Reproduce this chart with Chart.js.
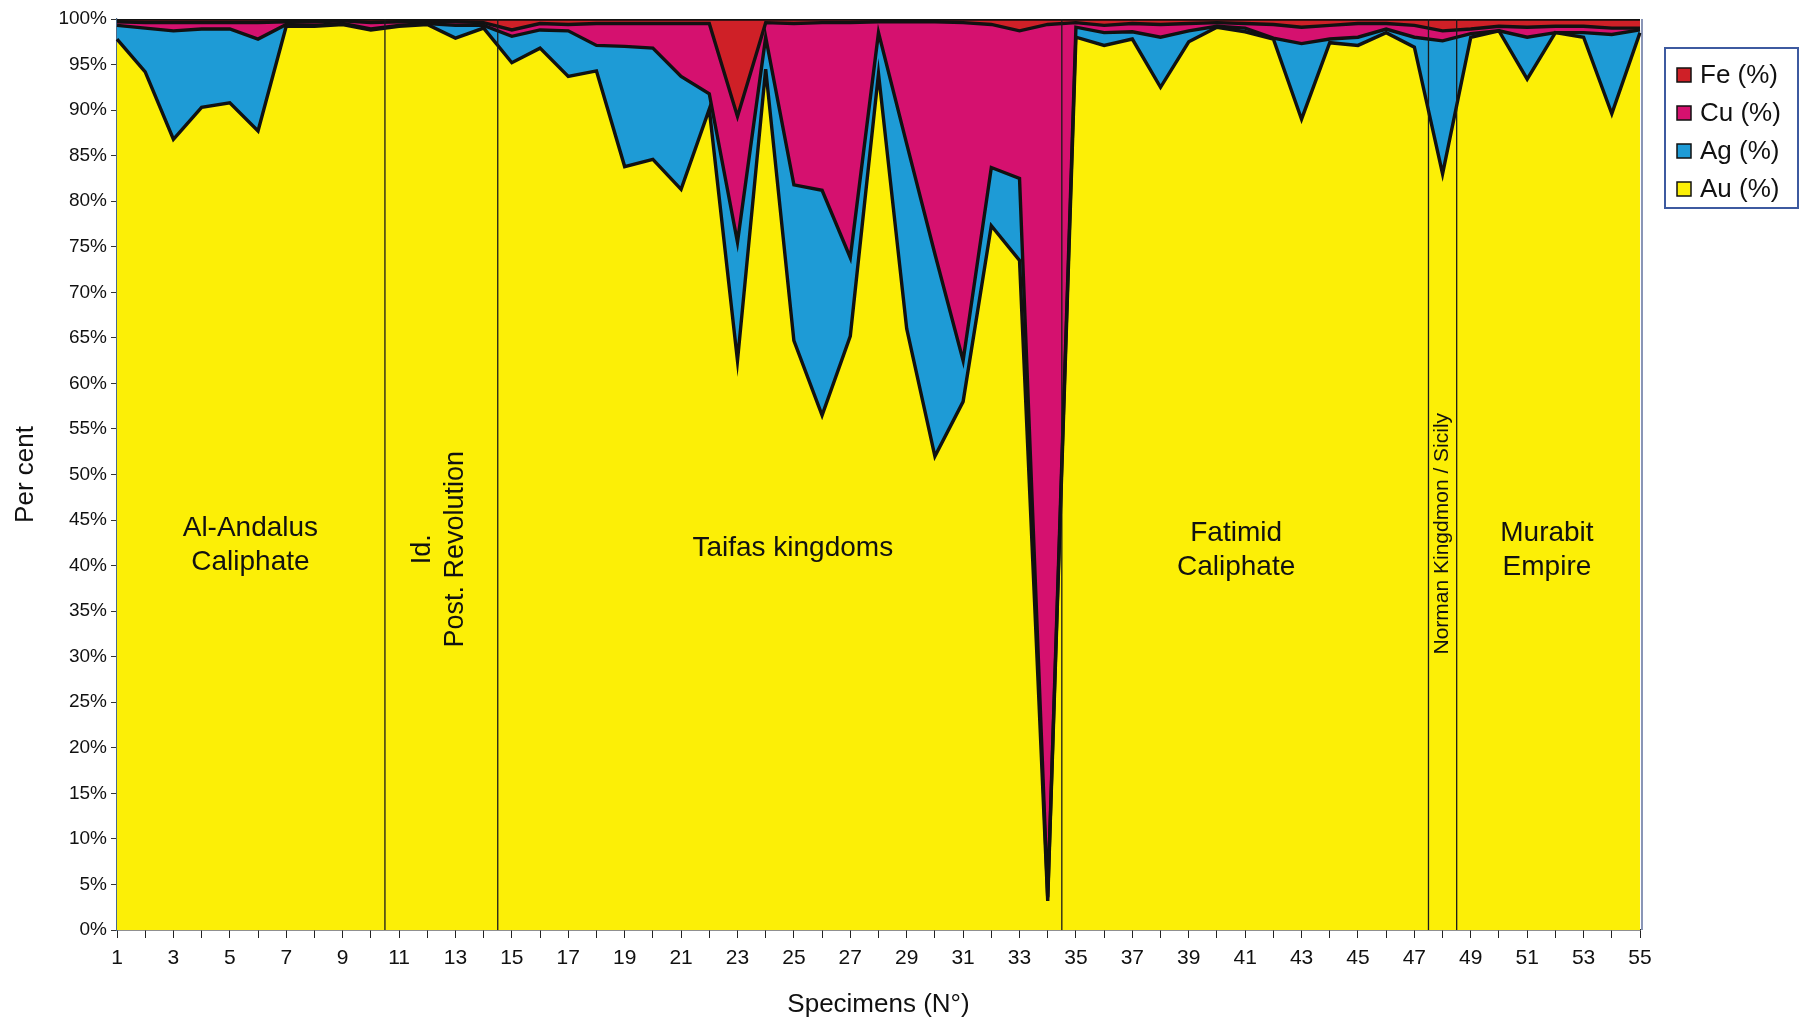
<!DOCTYPE html>
<html>
<head>
<meta charset="utf-8">
<script src="https://cdn.jsdelivr.net/npm/chart.js@4.4.1/dist/chart.umd.min.js"></script>
<style>
html,body{margin:0;padding:0;background:#fff;}
#wrap{width:1810px;height:1022px;}
</style>
</head>
<body>
<div id="wrap"><canvas id="chart" width="1810" height="1022"></canvas></div>
<script>
// specimens 1..55
const specimens=['1','2','3','4','5','6','7','8','9','10','11','12','13','14','15','16','17','18','19','20','21','22','23','24','25','26','27','28','29','30','31','32','33','34','35','36','37','38','39','40','41','42','43','44','45','46','47','48','49','50','51','52','53','54','55'];

// composition, per cent
const au=[97.8,94.2,86.8,90.3,90.8,87.7,99.2,99.2,99.4,98.8,99.2,99.4,97.9,99.0,95.2,96.8,93.7,94.3,83.8,84.6,81.3,90.1,62.5,94.5,64.7,56.5,65.2,94.0,66.0,52.0,58.0,77.3,73.5,3.2,98.0,97.1,97.8,92.5,97.5,99.1,98.6,97.8,89.0,97.4,97.1,98.5,96.9,83.0,98.0,98.7,93.4,98.5,98.0,89.6,98.5];
const ag=[1.5,4.8,11.9,8.6,8.1,10.1,0.2,0.1,0.1,0.1,0.1,0.1,1.4,0.3,2.9,2.0,5.0,2.8,13.2,12.2,12.4,1.7,13.0,3.5,17.1,24.7,8.6,4.5,20.3,22.2,4.5,6.4,9.0,0.4,1.1,1.4,0.8,5.5,1.2,0.1,0.4,0.1,8.3,0.4,0.9,0.4,1.1,14.6,0.4,0.0,4.6,0.0,0.5,8.7,0.3];
const cu=[0.4,0.6,0.9,0.7,0.7,1.8,0.3,0.4,0.3,0.7,0.4,0.2,0.4,0.3,0.7,0.7,0.7,2.4,2.5,2.7,5.8,7.7,13.8,1.6,17.7,18.4,25.8,1.2,13.4,25.5,37.1,15.7,16.2,95.8,0.5,0.8,0.9,1.4,0.8,0.4,0.5,1.5,1.8,1.5,1.5,0.6,1.3,1.1,0.5,0.5,1.1,0.7,0.7,0.7,0.2];
const fe=[0.3,0.4,0.4,0.4,0.4,0.4,0.3,0.3,0.2,0.4,0.3,0.3,0.3,0.4,1.2,0.5,0.6,0.5,0.5,0.5,0.5,0.5,10.7,0.4,0.5,0.4,0.4,0.3,0.3,0.3,0.4,0.6,1.3,0.6,0.4,0.7,0.5,0.6,0.5,0.4,0.5,0.6,0.9,0.7,0.5,0.5,0.7,1.3,1.1,0.8,0.9,0.8,0.8,1.0,1.0];

// period boundaries (between specimens, 0-based index) and labels
const dividers=[9.5,13.5,33.5,46.5,47.5];
const periods=[
  {lines:['Al-Andalus','Caliphate'], x:4.73, y:[44.1,40.4]},
  {lines:['Taifas kingdoms'], x:23.96, y:[41.9]},
  {lines:['Fatimid','Caliphate'], x:39.68, y:[43.6,39.8]},
  {lines:['Murabit','Empire'], x:50.7, y:[43.6,39.8]}
];
const rotated=[
  {text:'Id.', x:10.83, y:41.8, size:27},
  {text:'Post. Revolution', x:12.0, y:41.8, size:27},
  {text:'Norman Kingdmon / Sicily', x:46.98, y:43.5, size:21}
];

const FONT="'Liberation Sans', Arial, Helvetica, sans-serif";
const COLORS={au:'#fcef06',ag:'#1e9bd6',cu:'#d5116f',fe:'#cf2027'};

const overlay={
  id:'overlay',
  afterDatasetsDraw(chart){
    const c=chart.ctx, xs=chart.scales.x, ys=chart.scales.y, a=chart.chartArea;
    c.save();
    // period dividers
    c.strokeStyle='#1a1a1a'; c.lineWidth=1.3;
    dividers.forEach(d=>{ const x=xs.getPixelForValue(d); c.beginPath(); c.moveTo(x,a.top); c.lineTo(x,a.bottom); c.stroke(); });
    // frame
    c.strokeStyle='#3b4f86'; c.lineWidth=1.2;
    c.beginPath(); c.moveTo(a.right+2,a.top); c.lineTo(a.right+2,a.bottom); c.stroke();
    // period names
    c.fillStyle='#111'; c.textAlign='center'; c.textBaseline='middle';
    c.font='28px '+FONT;
    periods.forEach(p=>p.lines.forEach((t,i)=>c.fillText(t,xs.getPixelForValue(p.x),ys.getPixelForValue(p.y[i]))));
    rotated.forEach(r=>{
      c.save(); c.translate(xs.getPixelForValue(r.x),ys.getPixelForValue(r.y)); c.rotate(-Math.PI/2);
      c.font=r.size+'px '+FONT; c.fillText(r.text,0,0); c.restore();
    });
    // legend
    const lx=1665, ly=48, lw=133, lh=160;
    c.fillStyle='#fff'; c.fillRect(lx,ly,lw,lh);
    c.strokeStyle='#3d5aa0'; c.lineWidth=2; c.strokeRect(lx,ly,lw,lh);
    c.font='26px '+FONT; c.textAlign='left';
    chart.data.datasets.slice().reverse().forEach((ds,i)=>{
      const yc=75+i*38;
      c.fillStyle=ds.backgroundColor; c.fillRect(1677,yc-7,14,14);
      c.strokeStyle='#111'; c.lineWidth=1.5; c.strokeRect(1677,yc-7,14,14);
      c.fillStyle='#111'; c.fillText(ds.label,1700,yc+1);
    });
    c.restore();
  }
};

new Chart(document.getElementById('chart'),{
  type:'line',
  data:{labels:specimens, datasets:[
    {label:'Au (%)', data:au, backgroundColor:COLORS.au, fill:'origin'},
    {label:'Ag (%)', data:ag, backgroundColor:COLORS.ag, fill:'-1'},
    {label:'Cu (%)', data:cu, backgroundColor:COLORS.cu, fill:'-1'},
    {label:'Fe (%)', data:fe, backgroundColor:COLORS.fe, fill:'-1'}
  ]},
  options:{
    responsive:false, animation:false, devicePixelRatio:1,
    layout:{padding:{top:19,right:170,left:0,bottom:0}},
    elements:{line:{borderColor:'#111',borderWidth:3.4,tension:0,borderJoinStyle:'miter'},point:{radius:0,hoverRadius:0}},
    plugins:{legend:{display:false},tooltip:{enabled:false},filler:{drawTime:'beforeDatasetsDraw'}},
    scales:{
      x:{
        ticks:{autoSkip:false,maxRotation:0,padding:8,color:'#111',font:{family:FONT,size:21},
          callback:(v,i)=>i%2===0?specimens[i]:''},
        grid:{drawOnChartArea:false,color:'#222',tickLength:8,lineWidth:1},
        border:{color:'#222',width:1.5},
        title:{display:true,text:'Specimens (N°)',color:'#111',font:{family:FONT,size:26},padding:{top:0,bottom:2}},
        afterFit(s){s.height=92;}
      },
      y:{
        stacked:true,min:0,max:100,
        ticks:{stepSize:5,padding:4,color:'#111',font:{family:FONT,size:19},callback:v=>v+'%'},
        grid:{drawOnChartArea:false,color:'#333',tickLength:6},
        border:{color:'#4a6a8a',width:1.2},
        title:{display:true,text:'Per cent',color:'#111',font:{family:FONT,size:26},padding:{top:10,bottom:0}},
        afterFit(s){s.width=117;}
      }
    }
  },
  plugins:[overlay]
});
</script>
</body>
</html>
